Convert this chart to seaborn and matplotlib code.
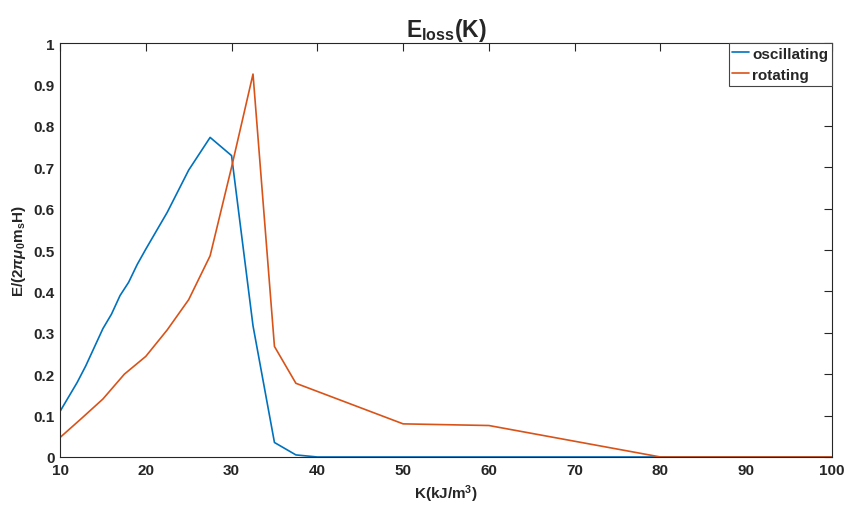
import matplotlib
matplotlib.use("Agg")
import matplotlib.pyplot as plt
import seaborn as sns
import pandas as pd
from matplotlib.ticker import FormatStrFormatter

# Data
K_osc = [10, 11, 12, 13, 14, 15, 16, 17, 18, 19, 20, 22.5, 25, 27.5, 30, 32.5, 35, 37.5, 40, 60, 80, 100]
E_osc = [0.11, 0.145, 0.18, 0.22, 0.265, 0.31, 0.345, 0.39, 0.422, 0.465, 0.502, 0.591, 0.693, 0.772,
         0.728, 0.317, 0.035, 0.005, 0.0, 0.0, 0.0, 0.0]
K_rot = [10, 12.5, 15, 17.5, 20, 22.5, 25, 27.5, 30, 32.5, 35, 37.5, 50, 60, 80, 100]
E_rot = [0.047, 0.093, 0.14, 0.2, 0.243, 0.307, 0.38, 0.486, 0.70, 0.925, 0.267, 0.178, 0.08, 0.076, 0.0, 0.0]
x_ticks = [10, 20, 30, 40, 50, 60, 70, 80, 90, 100]
y_ticks = [0, 0.1, 0.2, 0.3, 0.4, 0.5, 0.6, 0.7, 0.8, 0.9, 1]

sns.set_style("white")
plt.rcParams['font.family'] = ['Liberation Sans', 'DejaVu Sans']
plt.rcParams['font.weight'] = 'bold'
plt.rcParams['mathtext.fontset'] = 'custom'
plt.rcParams['mathtext.rm'] = 'Liberation Sans:bold'
plt.rcParams['mathtext.bf'] = 'Liberation Sans:bold'
plt.rcParams['mathtext.it'] = 'Liberation Sans:italic:bold'

df_osc = pd.DataFrame({'K': K_osc, 'E': E_osc})
df_rot = pd.DataFrame({'K': K_rot, 'E': E_rot})

fig = plt.figure(figsize=(8.44, 5.06), dpi=100)
ax = fig.add_axes([0.0711, 0.0949, 0.9147, 0.8181])

sns.lineplot(data=df_osc, x='K', y='E', ax=ax, color='#0072BD', lw=1.2, label='oscillating', sort=False)
sns.lineplot(data=df_rot, x='K', y='E', ax=ax, color='#D95319', lw=1.2, label='rotating', sort=False)

ax.set_xlim(10, 100)
ax.set_ylim(0, 1)
ax.set_xticks(x_ticks)
ax.set_yticks(y_ticks)
ax.yaxis.set_major_formatter(FormatStrFormatter('%g'))
ax.tick_params(direction='in', length=5.5, width=0.8, top=True, right=True,
               labelsize=11, colors='#262626', pad=4)
for lab in ax.get_xticklabels() + ax.get_yticklabels():
    lab.set_fontweight('bold')
for s in ax.spines.values():
    s.set_color('#262626')
    s.set_linewidth(0.8)

ax.set_title(r'E$_\mathbf{loss}$(K)', fontsize=16.5, fontweight='bold', pad=5)
ax.set_xlabel(r'K(kJ/m$^\mathbf{3}$)', fontsize=11, fontweight='bold', labelpad=4)
ax.set_ylabel(r'E/(2$\pi\mu_\mathbf{0}$m$_\mathbf{s}$H)', fontsize=11, fontweight='bold', labelpad=4)

leg = ax.legend(loc='upper right', borderaxespad=0, fancybox=False, edgecolor='#444444',
                framealpha=1, handlelength=1.1, handletextpad=0.2, borderpad=0.25,
                labelspacing=0.45, prop={'weight': 'bold', 'size': 11})
leg.get_frame().set_linewidth(0.8)

fig.savefig('out.png', dpi=100)
